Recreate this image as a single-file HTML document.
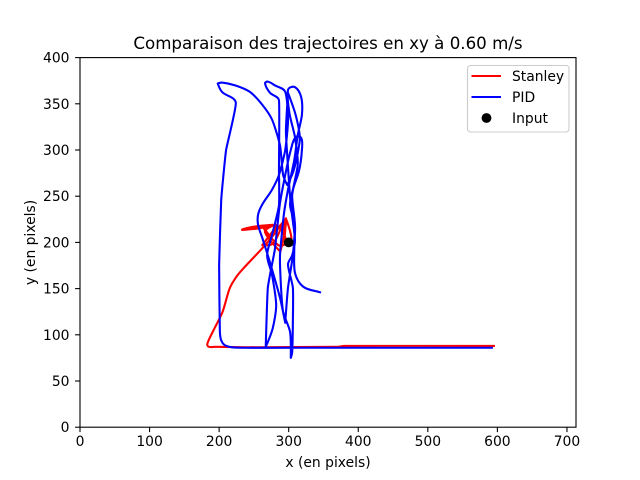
<!DOCTYPE html>
<html>
<head>
<meta charset="utf-8">
<style>
html,body{margin:0;padding:0;background:#fff;}
svg{display:block;font-family:"DejaVu Sans",sans-serif;fill:#000;}
</style>
</head>
<body>
<svg id="chart" width="640" height="480" viewBox="0 0 640 480" xmlns="http://www.w3.org/2000/svg">
<rect x="0" y="0" width="640" height="480" fill="#fff"/>
<text x="328" y="49" text-anchor="middle" font-size="16.67">Comparaison des trajectoires en xy à 0.60 m/s</text>
<text x="328" y="467" text-anchor="middle" font-size="13.89">x (en pixels)</text>
<text transform="translate(35,242.5) rotate(-90)" text-anchor="middle" font-size="13.89">y (en pixels)</text>
<g id="ticks"></g>
<g id="series"></g>
<rect x="80" y="57.6" width="496" height="369.6" fill="none" stroke="#000" stroke-width="1.1"/>
<g>
<rect x="467.5" y="65.5" width="101.5" height="66.5" rx="3" fill="#fff" fill-opacity="0.8" stroke="#ccc" stroke-width="1.1"/>
<line x1="471.5" y1="76" x2="501" y2="76" stroke="#f00" stroke-width="2.1"/>
<text x="512" y="81" font-size="13.89">Stanley</text>
<line x1="471.5" y1="97" x2="501" y2="97" stroke="#00f" stroke-width="2.1"/>
<text x="512" y="102" font-size="13.89">PID</text>
<circle cx="486.5" cy="118" r="4.9" fill="#000"/>
<text x="512" y="123" font-size="13.89">Input</text>
</g>
</svg>
<script>
const xTicks = [0, 100, 200, 300, 400, 500, 600, 700];
const yTicks = [0, 50, 100, 150, 200, 250, 300, 350, 400];
const stanleyX = [595,380,370,240,195,185,183,190,205,215,225,235,260,275,285,296,294,296,293,288,266,277,250,233,250,277,233,255,284,262,278,292,272,262,285,296,290,298,304,296,292];
const stanleyY = [88,88,87,86.5,87,87,90,102,125,150,163,172,192,205,215,226,204,222,206,190,211,218,216,214,217,219,213.5,215,219,197,199,222,205,218,197,200,214,198,204,226,212];
const pidX = [345,321,309,308,309,302,306,315,319,318,310,303,295,287,280,270,267,277,282,276,269,276,286,286,286,273,266,270,280,295,299,295,286,276,262,256,256,262,272,287.5,295,299,306,309,305,313,309,301,299,309,318,319,313,308,299,293,287.5,289,292,302,303,305,306,306,299,305,309,303,300,296,299,310,316,308,298,292,287.5,276,262,244,223,204,198,204,224,210,203,200,201,203,210,230,316,592];
const pidY = [146,152,167,192,219,240,257,278,300,313,314,300,273,240,192,151,87,107,132,165,186,208,240,278,354,362,372,374,370,363,332,300,273,257,241,230,219,205,181,140,113,151,186,219,251,284,314,340,365,368,357,338,316,289,257,230,186,151,125,103,75,81,114,151,176,186,203,240,270,320,362,338,312,280,262,273,305,333,349,363,370,373,372,363,351,300,246,176,105,94,88,86,86,86];
const inputX = [300];
const inputY = [200];

const NS = 'http://www.w3.org/2000/svg';
const xMax = 713, yMax = 400;
const sx = v => 80 + v / xMax * 496;
const sy = v => 427.2 - v / yMax * 369.6;
const ticksG = document.getElementById('ticks');
const seriesG = document.getElementById('series');

function make(tag, attrs, parent) {
  const el = document.createElementNS(NS, tag);
  for (const k in attrs) el.setAttribute(k, attrs[k]);
  parent.appendChild(el);
  return el;
}

xTicks.forEach(v => {
  const mark = make('line', {x1: sx(v), x2: sx(v), y1: 427.2, y2: 432.1, stroke: '#000', 'stroke-width': 1.1}, ticksG);
  
  
  const label = make('text', {x: sx(v), y: 446, 'text-anchor': 'middle', 'font-size': 13.89}, ticksG);
  
  
  label.textContent = v;
});
yTicks.forEach(v => {
  const mark = make('line', {x1: 75.1, x2: 80, y1: sy(v), y2: sy(v), stroke: '#000', 'stroke-width': 1.1}, ticksG);
  
  
  const label = make('text', {x: 69.5, y: sy(v) + 5, 'text-anchor': 'end', 'font-size': 13.89}, ticksG);
  
  
  label.textContent = v;
});

/* Smooth curve through every point; sharp reversals stay as corners, handles scale with segment length. */
function pathFrom(xs, ys) {
  const pts = xs.map((v, i) => [sx(v), sy(ys[i])]);
  const unit = (a, b) => {
    const dx = b[0] - a[0], dy = b[1] - a[1], len = Math.hypot(dx, dy) || 1;
    return [dx / len, dy / len];
  };
  const tangent = i => {
    const a = pts[Math.max(i - 1, 0)], b = pts[Math.min(i + 1, pts.length - 1)];
    if (i > 0 && i < pts.length - 1) {
      const u = unit(pts[i - 1], pts[i]), w = unit(pts[i], pts[i + 1]);
      if (u[0] * w[0] + u[1] * w[1] < 0) return [0, 0];
    }
    return unit(a, b);
  };
  let d = 'M' + pts[0][0].toFixed(2) + ' ' + pts[0][1].toFixed(2);
  for (let i = 0; i < pts.length - 1; i++) {
    const p = pts[i], q = pts[i + 1], seg = Math.hypot(q[0] - p[0], q[1] - p[1]);
    const h = Math.min(seg / 3, 6), t0 = tangent(i), t1 = tangent(i + 1);
    d += ' C' + (p[0] + t0[0] * h).toFixed(2) + ' ' + (p[1] + t0[1] * h).toFixed(2) +
         ' ' + (q[0] - t1[0] * h).toFixed(2) + ' ' + (q[1] - t1[1] * h).toFixed(2) +
         ' ' + q[0].toFixed(2) + ' ' + q[1].toFixed(2);
  }
  return d;
}

const stanleyLine = make('path', {d: pathFrom(stanleyX, stanleyY), fill: 'none', stroke: '#f00', 'stroke-width': 2.1, 'stroke-linejoin': 'round', 'stroke-linecap': 'square'}, seriesG);



const pidLine = make('path', {d: pathFrom(pidX, pidY), fill: 'none', stroke: '#00f', 'stroke-width': 2.1, 'stroke-linejoin': 'round', 'stroke-linecap': 'square'}, seriesG);



inputX.forEach((v, i) => {
  const dot = make('circle', {cx: sx(v), cy: sy(inputY[i]), r: 4.9, fill: '#000'}, seriesG);
  
  
});
</script>
</body>
</html>
